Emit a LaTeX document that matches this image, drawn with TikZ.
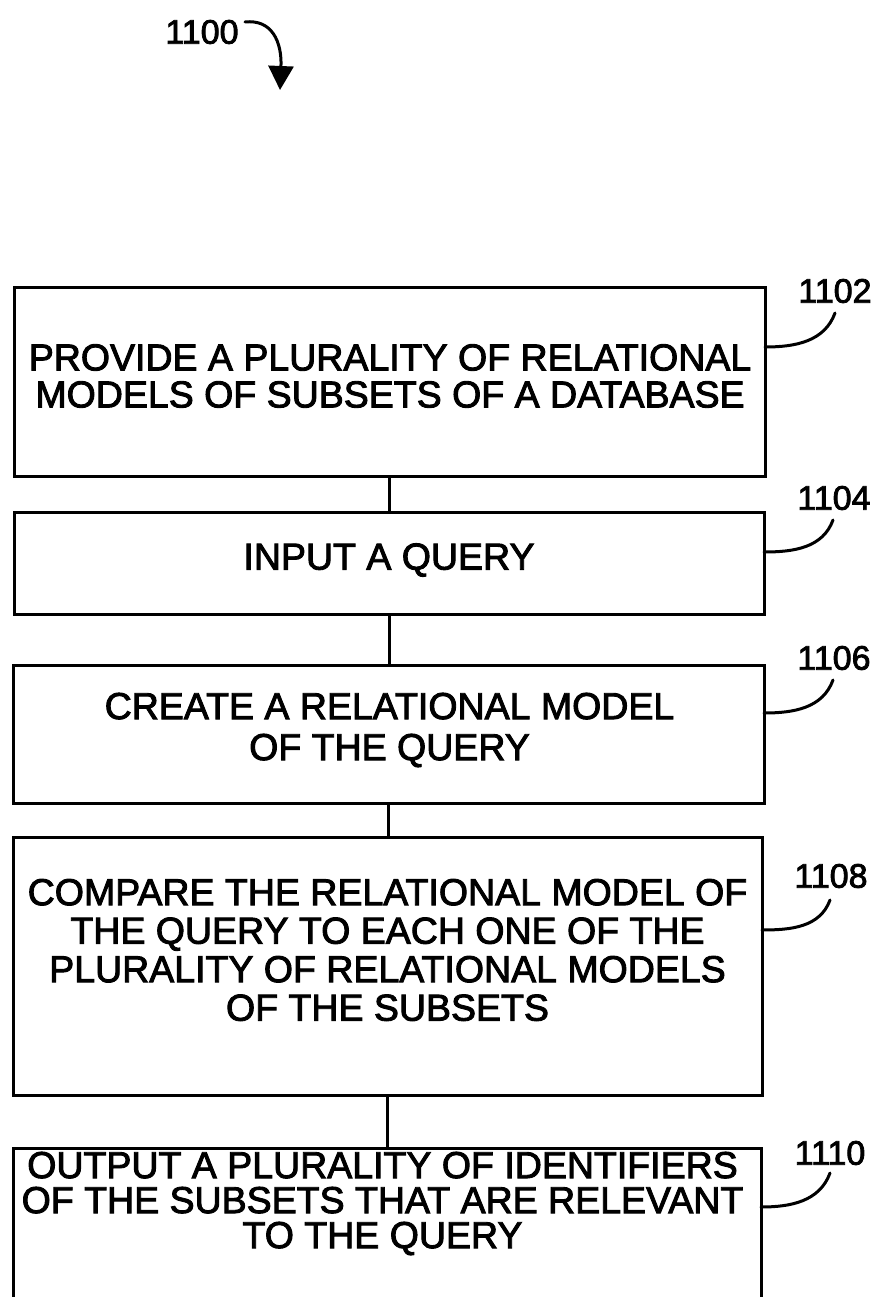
\documentclass[tikz,border=0pt]{standalone}
\usepackage{fontspec}
\setmainfont{Liberation Sans}[BoldFont={Liberation Sans}, BoldFeatures={FakeBold=2.4}]
\usetikzlibrary{arrows.meta}
\tikzset{
  stepbox/.style={draw, line width=3pt, inner sep=0pt},
  steptext/.style={inner sep=0pt, align=center, font=\bfseries\fontsize{37.5}{38}\selectfont},
  reftext/.style={inner sep=0pt, font=\bfseries\fontsize{34}{34}\selectfont},
  conn/.style={line width=3pt},
  leader/.style={line width=3pt, line cap=round}
}
\begin{document}
\begin{tikzpicture}[x=1pt, y=-1pt]
\useasboundingbox (0,0) rectangle (878,1297);
\fill[white] (0,0) rectangle (878,1297);
\clip (0,0) rectangle (878,1297);

% figure reference
\node[reftext] (n1100) at (202,32) {1100};
\coordinate (a1100s) at (245,22);
\coordinate (a1100e) at (280,90);
\draw[leader, -{Triangle[length=24pt, width=25pt]}] (a1100s) .. controls (272,19) and (282,42) .. (a1100e);

% boxes
\node[stepbox, minimum width=751pt, minimum height=189pt] (b1102) at (389.5,381.5) {};
\node[stepbox, minimum width=750pt, minimum height=102pt] (b1104) at (389,563) {};
\node[stepbox, minimum width=751pt, minimum height=138pt] (b1106) at (388.5,734) {};
\node[stepbox, minimum width=749pt, minimum height=258pt] (b1108) at (387.5,966) {};
\node[stepbox, minimum width=748pt, minimum height=172pt] (b1110) at (387,1234) {};

% texts
\node[steptext, font=\bfseries\fontsize{37.5}{37}\selectfont] (t1102) at (390,376)
  {PROVIDE A PLURALITY OF RELATIONAL\\MODELS OF SUBSETS OF A DATABASE};
\node[steptext] (t1104) at (389,560) {INPUT A QUERY};
\node[steptext, font=\bfseries\fontsize{37.5}{41}\selectfont] (t1106) at (389.5,730)
  {CREATE A RELATIONAL MODEL\\OF THE QUERY};
\node[steptext, font=\bfseries\fontsize{37.5}{38.5}\selectfont] (t1108) at (387.5,950)
  {COMPARE THE RELATIONAL MODEL OF\\THE QUERY TO EACH ONE OF THE\\PLURALITY OF RELATIONAL MODELS\\OF THE SUBSETS};
\node[steptext, font=\bfseries\fontsize{37.5}{35}\selectfont] (t1110) at (382.5,1203.5)
  {OUTPUT A PLURALITY OF IDENTIFIERS\\OF THE SUBSETS THAT ARE RELEVANT\\TO THE QUERY};

% connectors
\draw[conn] (b1102.south) -- (b1102.south |- b1104.north);
\draw[conn] (b1104.south) -- (b1104.south |- b1106.north);
\draw[conn] (b1106.south) -- (b1106.south |- b1108.north);
\draw[conn] (b1108.south) -- (b1108.south |- b1110.north);

% reference labels and leaders
\node[reftext] (n1102) at (835,291) {1102};
\node[reftext] (n1104) at (834,498) {1104};
\node[reftext] (n1106) at (834,658) {1106};
\node[reftext] (n1108) at (831,876) {1108};
\node[reftext] (n1110) at (830,1153) {1110};

\coordinate (l1102a) at (765,347);  \coordinate (l1102b) at (835,313);
\coordinate (l1104a) at (764,552);  \coordinate (l1104b) at (833,520);
\coordinate (l1106a) at (764,713);  \coordinate (l1106b) at (833,680);
\coordinate (l1108a) at (762,930);  \coordinate (l1108b) at (830,900);
\coordinate (l1110a) at (761,1207); \coordinate (l1110b) at (830,1173);

\draw[leader] (l1102a) to[out=0, in=250] (l1102b);
\draw[leader] (l1104a) to[out=0, in=250] (l1104b);
\draw[leader] (l1106a) to[out=0, in=250] (l1106b);
\draw[leader] (l1108a) to[out=0, in=250] (l1108b);
\draw[leader] (l1110a) to[out=0, in=250] (l1110b);
\end{tikzpicture}
\end{document}
